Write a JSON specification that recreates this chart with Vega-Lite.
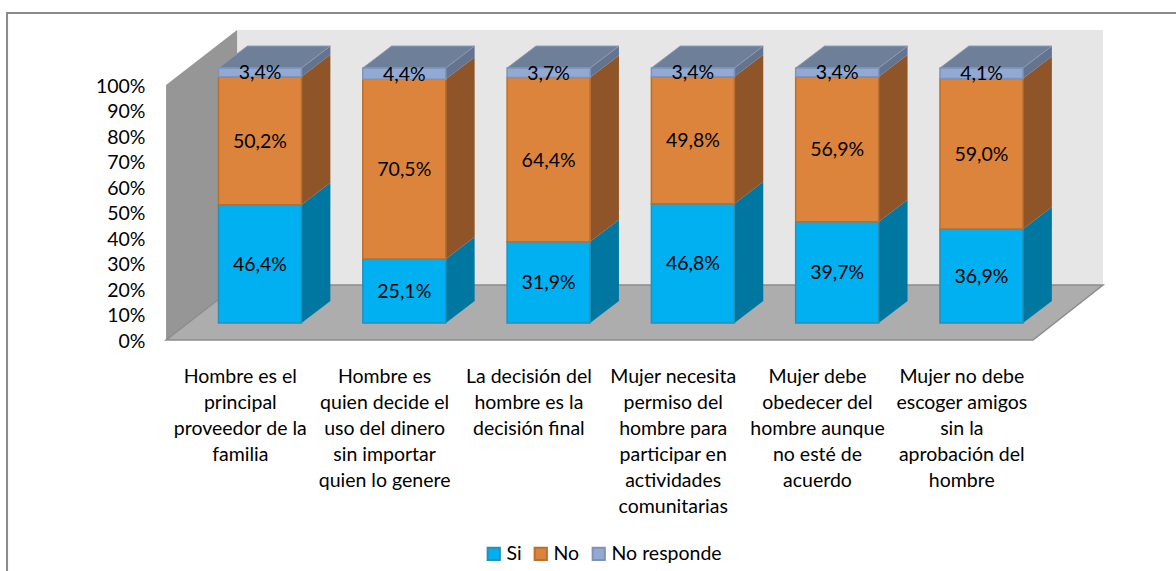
{
"$schema":"https://vega.github.io/schema/vega-lite/v6.json",
"width":1176,"height":571,"padding":0,"autosize":{"type":"none"},"background":"white",
"config":{"view":{"stroke":null},"font":"Lato","text":{"font":"Lato"}},
"data":{"values":[
{"idx":0,"pregunta":"Hombre es el|principal|proveedor de la|familia","respuesta":"Si","valor":46.4},
{"idx":0,"pregunta":"Hombre es el|principal|proveedor de la|familia","respuesta":"No","valor":50.2},
{"idx":0,"pregunta":"Hombre es el|principal|proveedor de la|familia","respuesta":"No responde","valor":3.4},
{"idx":1,"pregunta":"Hombre es|quien decide el|uso del dinero|sin importar|quien lo genere","respuesta":"Si","valor":25.1},
{"idx":1,"pregunta":"Hombre es|quien decide el|uso del dinero|sin importar|quien lo genere","respuesta":"No","valor":70.5},
{"idx":1,"pregunta":"Hombre es|quien decide el|uso del dinero|sin importar|quien lo genere","respuesta":"No responde","valor":4.4},
{"idx":2,"pregunta":"La decisión del|hombre es la|decisión final","respuesta":"Si","valor":31.9},
{"idx":2,"pregunta":"La decisión del|hombre es la|decisión final","respuesta":"No","valor":64.4},
{"idx":2,"pregunta":"La decisión del|hombre es la|decisión final","respuesta":"No responde","valor":3.7},
{"idx":3,"pregunta":"Mujer necesita|permiso del|hombre para|participar en|actividades|comunitarias","respuesta":"Si","valor":46.8},
{"idx":3,"pregunta":"Mujer necesita|permiso del|hombre para|participar en|actividades|comunitarias","respuesta":"No","valor":49.8},
{"idx":3,"pregunta":"Mujer necesita|permiso del|hombre para|participar en|actividades|comunitarias","respuesta":"No responde","valor":3.4},
{"idx":4,"pregunta":"Mujer debe|obedecer del|hombre aunque|no esté de|acuerdo","respuesta":"Si","valor":39.7},
{"idx":4,"pregunta":"Mujer debe|obedecer del|hombre aunque|no esté de|acuerdo","respuesta":"No","valor":56.9},
{"idx":4,"pregunta":"Mujer debe|obedecer del|hombre aunque|no esté de|acuerdo","respuesta":"No responde","valor":3.4},
{"idx":5,"pregunta":"Mujer no debe|escoger amigos|sin la|aprobación del|hombre","respuesta":"Si","valor":36.9},
{"idx":5,"pregunta":"Mujer no debe|escoger amigos|sin la|aprobación del|hombre","respuesta":"No","valor":59.0},
{"idx":5,"pregunta":"Mujer no debe|escoger amigos|sin la|aprobación del|hombre","respuesta":"No responde","valor":4.1}
]},
"encoding":{
"x":{"field":"ax","type":"quantitative","stack":false,"title":null,
 "scale":{"domain":[-1.8018,6.348],"nice":false,"zero":false},
 "axis":{"zindex":1,"values":[-0.14,0.86,1.86,2.86,3.86,4.86],"orient":"bottom","offset":-204,"domain":false,"ticks":false,"grid":false,"labelPadding":0,"labelFontSize":19.5,"labelFont":"Lato","labelColor":"#000000","labelLineHeight":26,"labelBaseline":"top","labelOverlap":false,"labelBound":false,"labelFlush":false,
 "labelExpr":"split(['Hombre es el|principal|proveedor de la|familia','Hombre es|quien decide el|uso del dinero|sin importar|quien lo genere','La decisión del|hombre es la|decisión final','Mujer necesita|permiso del|hombre para|participar en|actividades|comunitarias','Mujer debe|obedecer del|hombre aunque|no esté de|acuerdo','Mujer no debe|escoger amigos|sin la|aprobación del|hombre'][round(datum.value+0.14)],'|')"}},
"y":{"field":"ay","type":"quantitative","stack":false,"title":null,
 "scale":{"domain":[-90.59,133.33],"nice":false,"zero":false},
 "axis":{"zindex":1,"values":[0,10,20,30,40,50,60,70,80,90,100],"orient":"left","offset":-145,"domain":false,"ticks":false,"grid":false,"labelPadding":0,"labelOffset":1.5,"labelFontSize":19.5,"labelFont":"Lato","labelColor":"#000000","labelExpr":"datum.value+'%'","labelOverlap":false,"labelBound":false}}
},
"layer":[
{"data":{"values":[{"t":0}]},
 "transform":[{"calculate":"-1.753","as":"ax"},{"calculate":"7","as":"bx"},{"calculate":"128.2","as":"ay"},{"calculate":"-102","as":"by"}],
 "mark":{"type":"rect","fill":"white","stroke":"#8a8a8a","strokeWidth":2,"clip":false},
 "encoding":{"x2":{"field":"bx"},"y2":{"field":"by"}}},
{"data":{"values":[{"t":0}]},
 "transform":[{"calculate":"-0.159","as":"ax"},{"calculate":"5.842","as":"bx"},{"calculate":"21.57","as":"ay"},{"calculate":"121.57","as":"by"}],
 "mark":{"type":"rect","fill":"#E6E6E6"},
 "encoding":{"x2":{"field":"bx"},"y2":{"field":"by"}}},
{"data":{"values":[{"t":0},{"t":1}]},
 "transform":[{"calculate":"-0.651+datum.t*0.492","as":"ax"},{"calculate":"datum.t*21.57","as":"ay"},{"calculate":"100+datum.t*21.57","as":"by"}],
 "mark":{"type":"area","orient":"vertical","fill":"#969696"},
 "encoding":{"y2":{"field":"by"}}},
{"data":{"values":[{"t":0},{"t":1}]},
 "transform":[{"calculate":"-0.651+datum.t*0.492","as":"ax"},{"calculate":"5.357+datum.t*0.485","as":"bx"},{"calculate":"datum.t*21.57","as":"ay"}],
 "mark":{"type":"area","orient":"horizontal","fill":"#ADADAD","stroke":"#8c8c8c","strokeWidth":1.5},
 "encoding":{"x2":{"field":"bx"}}},
{"transform":[
  {"calculate":"indexof(['Si','No','No responde'],datum.respuesta)","as":"orden"},
  {"stack":"valor","groupby":["idx"],"sort":[{"field":"orden","order":"ascending"}],"as":["y0","y1"]},
  {"calculate":"datum.y0+6.67","as":"yb"},{"calculate":"datum.y1+6.67","as":"yt"},
  {"calculate":"[0,1]","as":"t"},{"flatten":["t"]}],
 "layer":[
  {"transform":[{"calculate":"datum.idx+0.2876+datum.t*0.2","as":"ax"},{"calculate":"datum.yb+datum.t*8.6","as":"ay"},{"calculate":"datum.yt+datum.t*8.6","as":"by"}],
   "mark":{"type":"area","orient":"vertical"},
   "encoding":{"y2":{"field":"by"},"detail":{"field":"idx"},
    "fill":{"field":"respuesta","type":"nominal","legend":null,"scale":{"domain":["Si","No","No responde"],"range":["#0077A0","#8F5528","#64748F"]}}}},
  {"transform":[{"filter":"datum.respuesta=='No responde'"},{"calculate":"datum.idx-0.2876+datum.t*0.2","as":"ax"},{"calculate":"datum.idx+0.2876+datum.t*0.2","as":"bx"},{"calculate":"datum.yt+datum.t*8.6","as":"ay"}],
   "mark":{"type":"area","orient":"horizontal","fill":"#6E7F9A","stroke":"#8a9ab5","strokeWidth":1},
   "encoding":{"x2":{"field":"bx"},"detail":{"field":"idx"}}},
  {"transform":[{"filter":"datum.t==0"},{"calculate":"datum.idx-0.2876","as":"ax"},{"calculate":"datum.idx+0.2876","as":"bx"},{"calculate":"datum.yb","as":"ay"},{"calculate":"datum.yt","as":"by"}],
   "mark":{"type":"rect","strokeWidth":1.5},
   "encoding":{"x2":{"field":"bx"},"y2":{"field":"by"},
    "fill":{"field":"respuesta","type":"nominal","title":null,"scale":{"domain":["Si","No","No responde"],"range":["#00B0F0","#DD843C","#92A9D3"]},
     "legend":{"orient":"none","legendX":484,"legendY":544,"direction":"horizontal","columns":3,"symbolType":"square","symbolSize":150,"symbolStrokeWidth":2,"labelFontSize":19.5,"labelFont":"Lato","labelColor":"#000000","columnPadding":8,"labelOffset":3,"title":null}},
    "stroke":{"field":"respuesta","type":"nominal","title":null,"scale":{"domain":["Si","No","No responde"],"range":["#2A8FB8","#B96F2F","#7F93B8"]}}}},
  {"transform":[{"filter":"datum.t==0"},{"calculate":"datum.idx","as":"ax"},{"calculate":"(datum.yb+datum.yt)/2","as":"ay"},{"calculate":"replace(format(datum.valor,'.1f'),'.',',')+'%'","as":"etiqueta"}],
   "mark":{"type":"text","fontSize":19.5,"font":"Lato","color":"#000000","align":"center","baseline":"middle","dy":1},
   "encoding":{"text":{"field":"etiqueta"}}}
 ],
 "resolve":{"scale":{"fill":"independent","stroke":"independent"}}}
],
"resolve":{"scale":{"fill":"independent","stroke":"independent"}}
}
